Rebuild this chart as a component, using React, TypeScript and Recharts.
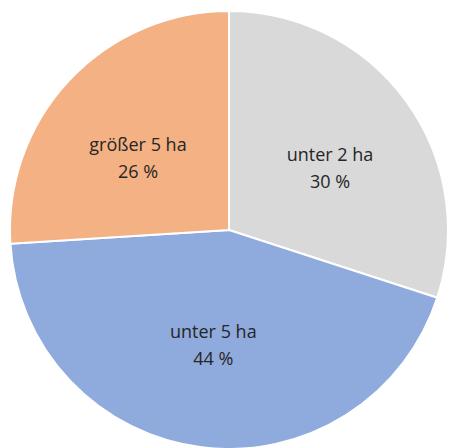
import { PieChart, Pie, Cell } from "recharts";

const categories = ["unter 2 ha", "unter 5 ha", "größer 5 ha"];
const shares = [30, 44, 26];
const colors = ["#d9d9d9", "#8faadc", "#f4b183"];

const data = categories.map((name, i) => ({ name, value: shares[i] }));

const RAD = Math.PI / 180;

// labels sit inside the slice, on a slightly flattened ring
function renderLabel(props: any) {
  const { cx, cy, midAngle, outerRadius, name, value } = props;
  const x = cx + outerRadius * 0.57 * Math.cos(-midAngle * RAD);
  const y = cy + outerRadius * 0.51 * Math.sin(-midAngle * RAD);
  return (
    <text
      x={x}
      y={y}
      textAnchor="middle"
      fill="#262626"
      fontFamily="'Open Sans', sans-serif"
      fontWeight={500}
      fontSize={18}
    >
      <tspan x={x} dy={-3}>{name}</tspan>
      <tspan x={x} dy={27}>{value} %</tspan>
    </text>
  );
}

export default function App() {
  return (
    <div style={{ position: "absolute", left: 0, top: 0, width: 449, height: 448, background: "#fff" }}>
      <PieChart width={449} height={448} margin={{ top: 0, right: 0, bottom: 0, left: 0 }}>
        <Pie
          data={data}
          dataKey="value"
          nameKey="name"
          cx={229}
          cy={230}
          outerRadius={219}
          startAngle={90}
          endAngle={-270}
          stroke="#ffffff"
          strokeWidth={2}
          label={renderLabel}
          labelLine={false}
          isAnimationActive={false}
        >
          {data.map((d, i) => (
            <Cell key={d.name} fill={colors[i]} />
          ))}
        </Pie>
      </PieChart>
    </div>
  );
}
